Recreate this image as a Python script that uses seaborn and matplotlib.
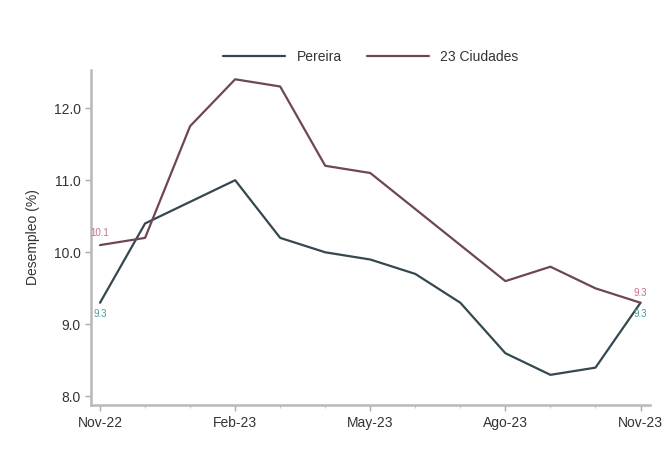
import pandas as pd
import matplotlib.pyplot as plt
import seaborn as sns

# datos mensuales nov-22 a nov-23
meses = ['Nov-22', 'Dic-22', 'Ene-23', 'Feb-23', 'Mar-23', 'Abr-23', 'May-23',
         'Jun-23', 'Jul-23', 'Ago-23', 'Sep-23', 'Oct-23', 'Nov-23']
pereira = [9.3, 10.4, 10.7, 11.0, 10.2, 10.0, 9.9, 9.7, 9.3, 8.6, 8.3, 8.4, 9.3]
ciudades = [10.1, 10.2, 11.75, 12.4, 12.3, 11.2, 11.1, 10.6, 10.1, 9.6, 9.8, 9.5, 9.3]
tick_meses = ['Nov-22', 'Feb-23', 'May-23', 'Ago-23', 'Nov-23']

sns.set_theme(style="white")
plt.rcParams['font.family'] = ['Liberation Sans', 'DejaVu Sans']

df = pd.DataFrame({
    'mes': list(range(len(meses))) * 2,
    'valor': pereira + ciudades,
    'serie': ['Pereira'] * len(meses) + ['23 Ciudades'] * len(meses),
})

colores = {'Pereira': '#35474f', '23 Ciudades': '#6e4656'}

fig = plt.figure(figsize=(6.62, 4.63), dpi=100)
ax = fig.add_axes([0.1375, 0.125, 0.845, 0.724])

sns.lineplot(data=df, x='mes', y='valor', hue='serie', palette=colores,
             linewidth=1.6, ax=ax, legend=True)

# etiquetas de inicio y fin
n = len(meses) - 1
ax.text(0, ciudades[0] + 0.1, f'{ciudades[0]:.1f}', color='#c8708a', fontsize=7,
        ha='center', va='bottom')
ax.text(0, pereira[0] - 0.08, f'{pereira[0]:.1f}', color='#4a9c9c', fontsize=7,
        ha='center', va='top')
ax.text(n, ciudades[-1] + 0.06, f'{ciudades[-1]:.1f}', color='#c8708a', fontsize=7,
        ha='center', va='bottom')
ax.text(n, pereira[-1] - 0.08, f'{pereira[-1]:.1f}', color='#4a9c9c', fontsize=7,
        ha='center', va='top')

ax.set_xlim(-0.2, n + 0.22)
ax.set_ylim(7.88, 12.53)
ax.set_yticks([8, 9, 10, 11, 12])
ax.set_yticklabels([f'{v:.1f}' for v in [8, 9, 10, 11, 12]])
ax.set_xticks([meses.index(m) for m in tick_meses if m in meses])
ax.set_xticks(range(len(meses)), minor=True)
ax.set_xticklabels(tick_meses)
ax.set_xlabel('')
ax.set_ylabel('Desempleo (%)', fontsize=10, color='#333333', labelpad=10)

ax.tick_params(axis='both', which='major', length=4, width=1, color='#aaaaaa',
               labelsize=10, labelcolor='#333333', bottom=True, left=True)
ax.tick_params(axis='x', which='minor', length=2, width=0.8, color='#cccccc', bottom=True)

for lado in ['top', 'right']:
    ax.spines[lado].set_visible(False)
for lado in ['left', 'bottom']:
    ax.spines[lado].set_color('#b8b8b8')
    ax.spines[lado].set_linewidth(1.8)

leg = ax.legend(loc='center', bbox_to_anchor=(0.5, 1.04), ncol=2, frameon=False,
                fontsize=10, handlelength=4.5, columnspacing=1.8, handletextpad=0.8)
for t in leg.get_texts():
    t.set_color('#333333')

fig.savefig('out.png', dpi=100)
